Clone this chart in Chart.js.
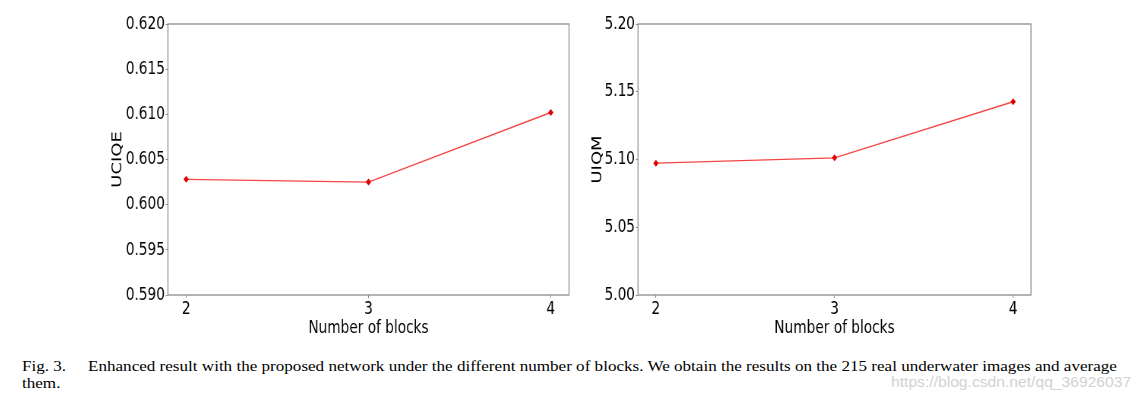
<!DOCTYPE html>
<html>
<head>
<meta charset="utf-8">
<script src="https://cdn.jsdelivr.net/npm/chart.js@4.4.0/dist/chart.umd.min.js"></script>
<style>
body { margin: 0; background: #fff; width: 1143px; height: 399px; position: relative; overflow: hidden; }
canvas { position: absolute; top: 0; }
#uciqeChart { left: 100px; }
#uiqmChart { left: 580px; }
.cap { position: absolute; font-family: 'Liberation Serif', 'Times New Roman', serif; font-size: 15.5px; line-height: 16.6px; color: #000; white-space: nowrap; transform-origin: 0 0; }
#capFig { left: 22px; top: 358px; }
#capLine1 { left: 88px; top: 358px; }
#capLine2 { left: 22px; top: 375px; }
#mark { position: absolute; left: 891px; top: 373px; font-family: 'Liberation Sans', Arial, sans-serif; font-size: 15px; color: #d2d2d2; white-space: nowrap; transform-origin: 0 0; }
</style>
</head>
<body>
<canvas id="uciqeChart"></canvas>
<canvas id="uiqmChart"></canvas>
<div class="cap" id="capFig">Fig. 3.</div>
<div class="cap" id="capLine1">Enhanced result with the proposed network under the different number of blocks. We obtain the results on the 215 real underwater images and average</div>
<div class="cap" id="capLine2">them.</div>
<div id="mark">https://blog.csdn.net/qq_36926037</div>
<script>
const blocks = [2, 3, 4]
const uciqe = [0.6028, 0.6025, 0.6102]
const uiqm = [5.0973, 5.1012, 5.1426]

// the figure is squeezed sideways: draw wider, show narrower
const squeeze = 0.76
const font = { family: "'DejaVu Sans', sans-serif", size: 18 }
const axisGray = '#8c8c8c'

// box around the plot area, like matplotlib spines
const frame = {
    id: 'frame',
    afterDraw(chart) {
        const { ctx, chartArea: a } = chart
        ctx.save()
        ctx.strokeStyle = axisGray
        ctx.lineWidth = 1.3
        ctx.strokeRect(a.left, a.top, a.right - a.left, a.bottom - a.top)
        ctx.restore()
    }
}

function makeChart(id, cssWidth, values, yMin, yMax, step, decimals, yTitle, yWidth, padRight) {
    const canvas = document.getElementById(id)
    canvas.width = Math.round(cssWidth / squeeze)
    canvas.height = 340
    canvas.style.width = cssWidth + 'px'
    canvas.style.height = '340px'
    return new Chart(canvas, {
        type: 'line',
        data: {
            datasets: [{
                data: blocks.map((b, i) => ({ x: b, y: values[i] })),
                borderColor: 'rgba(245, 70, 70, 1)',
                borderWidth: 1.4,
                pointStyle: 'rectRot',
                pointRadius: 3.5,
                pointBackgroundColor: 'rgba(225, 0, 0, 1)',
                pointBorderColor: 'rgba(225, 0, 0, 1)',
                pointBorderWidth: 0,
                tension: 0,
            }]
        },
        options: {
            responsive: false,
            animation: false,
            devicePixelRatio: 1,
            layout: { padding: { top: 24, right: padRight / squeeze, left: 0, bottom: 0 } },
            plugins: { legend: { display: false }, tooltip: { enabled: false } },
            scales: {
                x: {
                    type: 'linear',
                    min: 1.9,
                    max: 4.1,
                    afterBuildTicks: scale => { scale.ticks = blocks.map(v => ({ value: v })) },
                    afterFit: scale => { scale.height = 45 },
                    grid: { drawOnChartArea: false, color: axisGray, tickLength: 3 },
                    border: { display: false },
                    ticks: { color: '#000', font: font, padding: 1, maxRotation: 0 },
                    title: { display: true, text: 'Number of blocks', color: '#000', font: font, padding: { top: 0, bottom: 1 } }
                },
                y: {
                    min: yMin,
                    max: yMax,
                    afterFit: scale => { scale.width = yWidth / squeeze },
                    grid: { drawOnChartArea: false, color: axisGray, tickLength: 3 },
                    border: { display: false },
                    ticks: { stepSize: step, color: '#000', font: font, padding: 1, callback: v => v.toFixed(decimals) },
                    title: { display: true, text: yTitle, color: '#000', font: font, padding: { top: 13, bottom: 13 } }
                }
            }
        },
        plugins: [frame]
    })
}

makeChart('uciqeChart', 480, uciqe, 0.590, 0.620, 0.005, 3, 'UCIQE', 68, 11)
makeChart('uiqmChart', 460, uiqm, 5.00, 5.20, 0.05, 2, 'UIQM', 58, 9)

// caption text is narrow too: fit line 1 to its printed width
const line1 = document.getElementById('capLine1')
const k = 1029 / line1.offsetWidth
for (const id of ['capFig', 'capLine1', 'capLine2']) {
    document.getElementById(id).style.transform = `scaleX(${k})`
}
const mark = document.getElementById('mark')
mark.style.transform = `scaleX(${240 / mark.offsetWidth})`
</script>
</body>
</html>
